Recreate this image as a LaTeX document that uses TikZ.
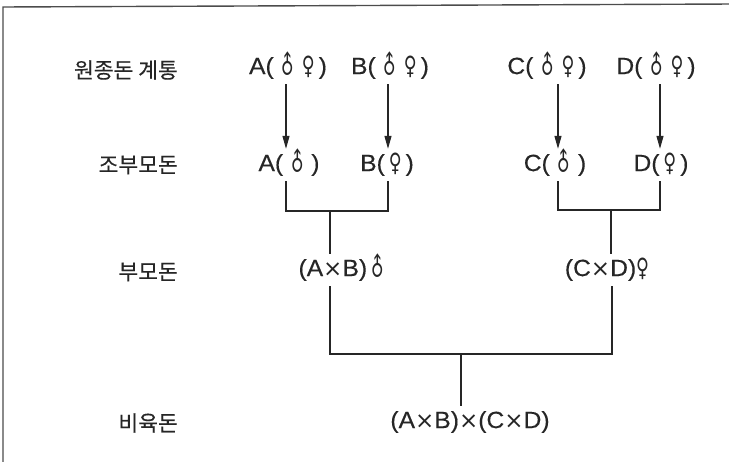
\documentclass[tikz,border=0pt]{standalone}
\usepackage{fontspec}
\setmainfont{Liberation Sans}[FakeStretch=1.05,FakeBold=0.3]
\newfontfamily\krfont{Noto Sans CJK KR}[FakeBold=0.4]
\newfontfamily\symfont{DejaVu Sans}
\newfontfamily\xfont{DejaVu Sans}
\usetikzlibrary{arrows.meta}
\newcommand{\maleS}{{\symfont\fontsize{22}{22}\selectfont\smash{\scalebox{0.8}[1.15]{\rotatebox[origin=c]{45}{♂}}}}}
\newcommand{\femS}{{\symfont\fontsize{22}{22}\selectfont\smash{\scalebox{0.8}[1.15]{♀}}}}
\newcommand{\tms}{{\xfont\fontsize{23}{23}\selectfont ×}}
\begin{document}
\begin{tikzpicture}[x=1pt,y=-1pt,
  lbl/.style={font=\krfont\fontsize{21.5}{24}\selectfont, anchor=east, inner sep=0pt, text=black!85},
  tx/.style={font=\fontsize{23.5}{27}\selectfont, inner sep=5pt, text=black!85},
  ln/.style={line width=1.2pt, draw=black!85},
  arr/.style={ln, -{Triangle[length=13pt,width=7pt]}}]
\useasboundingbox (0,0) rectangle (729,462);
\draw[line width=1.4pt, black!70] (3,470) -- (3,7) -- (735,4);
% row labels
\node[lbl] (l1) at (178,70) {원종돈 계통};
\node[lbl] (l2) at (178,165) {조부모돈};
\node[lbl] (l3) at (178,272) {부모돈};
\node[lbl] (l4) at (178,423) {비육돈};
% row 1
\node[tx] (a0) at (288,68) {A(\,\maleS\,\femS\,)};
\node[tx] (b0) at (390,68) {B(\,\maleS\,\femS\,)};
\node[tx] (c0) at (547,68) {C(\,\maleS\,\femS\,)};
\node[tx] (d0) at (656,68) {D(\,\maleS\,\femS\,)};
% row 2
\node[tx] (a1) at (289,165) {A(\,\maleS\,)};
\node[tx] (b1) at (387,165) {B(\,\femS\,)};
\node[tx] (c1) at (555,165) {C(\,\maleS\,)};
\node[tx] (d1) at (661,165) {D(\,\femS\,)};
% row 3
\node[tx] (p1) at (343,270) {(A\tms B)\maleS};
\node[tx] (p2) at (607,270) {(C\tms D)\femS};
% row 4
\node[tx] (f) at (470,422) {(A\tms B)\tms(C\tms D)};
% junctions
\coordinate (ja) at (286,211);
\coordinate (jb) at (388,211);
\coordinate (jc) at (558,210);
\coordinate (jd) at (660,210);
\coordinate (jab) at (330,211);
\coordinate (jcd) at (611,210);
\coordinate (jl) at (330,354);
\coordinate (jr) at (612,354);
\coordinate (jm) at (461,354);
% arrows
\draw[arr] (a0.south -| ja) -- (a1.north -| ja);
\draw[arr] (b0.south -| jb) -- (b1.north -| jb);
\draw[arr] (c0.south -| jc) -- (c1.north -| jc);
\draw[arr] (d0.south -| jd) -- (d1.north -| jd);
% brackets
\draw[ln] (a1.south -| ja) -- (ja) -- (jb) -- (b1.south -| jb);
\draw[ln] (jab) -- (p1.north -| jab);
\draw[ln] (c1.south -| jc) -- (jc) -- (jd) -- (d1.south -| jd);
\draw[ln] (jcd) -- (p2.north -| jcd);
\draw[ln] (p1.south -| jl) -- (jl) -- (jr) -- (p2.south -| jr);
\draw[ln] (jm) -- (f.north -| jm);
\end{tikzpicture}
\end{document}
